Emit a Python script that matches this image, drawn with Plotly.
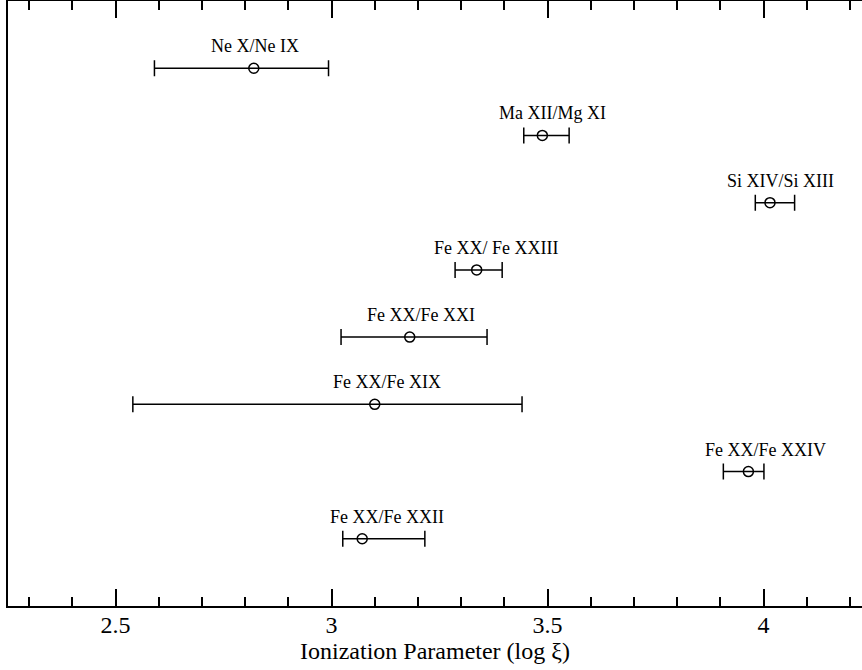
import plotly.graph_objects as go

# ---- data ----
labels = ["Ne X/Ne IX", "Ma XII/Mg XI", "Si XIV/Si XIII", "Fe XX/ Fe XXIII",
          "Fe XX/Fe XXI", "Fe XX/Fe XIX", "Fe XX/Fe XXIV", "Fe XX/Fe XXII"]
rows = [1, 2, 3, 4, 5, 6, 7, 8]
log_xi = [2.820, 3.488, 4.015, 3.336, 3.181, 3.100, 3.965, 3.071]
lower = [2.590, 3.445, 3.981, 3.286, 3.022, 2.540, 3.907, 3.026]
upper = [2.993, 3.550, 4.072, 3.395, 3.360, 3.441, 4.001, 3.216]
label_x = [2.822, 3.512, 4.040, 3.380, 3.207, 3.128, 4.004, 3.128]
tick_vals = [2.5, 3.0, 3.5, 4.0]
tick_text = ["2.5", "3", "3.5", "4"]

err_plus = [u - c for u, c in zip(upper, log_xi)]
err_minus = [c - l for c, l in zip(log_xi, lower)]

font_family = "Liberation Serif"

fig = go.Figure()
fig.add_trace(go.Scatter(
    x=log_xi, y=rows, mode="markers",
    marker=dict(symbol="circle-open", size=10, color="black", line=dict(width=1.5, color="black")),
    error_x=dict(type="data", symmetric=False, array=err_plus, arrayminus=err_minus,
                 color="black", thickness=1.5, width=8),
    showlegend=False, hoverinfo="skip",
))

for lx, r, t in zip(label_x, rows, labels):
    fig.add_annotation(x=lx, y=r, text=t, showarrow=False, yshift=22,
                       font=dict(family=font_family, size=18, color="black"))

fig.update_layout(
    width=862, height=670,
    margin=dict(l=8, r=0, t=1, b=64),
    paper_bgcolor="white", plot_bgcolor="white",
    font=dict(family=font_family, color="black"),
    xaxis=dict(
        range=[2.251, 4.228], tickvals=tick_vals, ticktext=tick_text,
        ticks="inside", ticklen=17, tickwidth=1.5, tickcolor="black",
        showline=True, linecolor="black", linewidth=1.5, mirror="ticks",
        showgrid=False, zeroline=False, automargin=False, ticklabelstandoff=-4,
        tickfont=dict(family=font_family, size=24, color="black"),
        minor=dict(dtick=0.1, tick0=0, ticks="inside", ticklen=9, tickwidth=1.5,
                   tickcolor="black", showgrid=False),
        title=dict(text="Ionization Parameter (log ξ)", standoff=0,
                   font=dict(family=font_family, size=24, color="black")),
    ),
    yaxis=dict(
        range=[9, 0], showticklabels=False, ticks="", showgrid=False, zeroline=False,
        showline=True, linecolor="black", linewidth=1.5, automargin=False,
    ),
)

fig.write_html("out.html", config={"displayModeBar": False},
               post_script="document.body.style.margin='0px';")
